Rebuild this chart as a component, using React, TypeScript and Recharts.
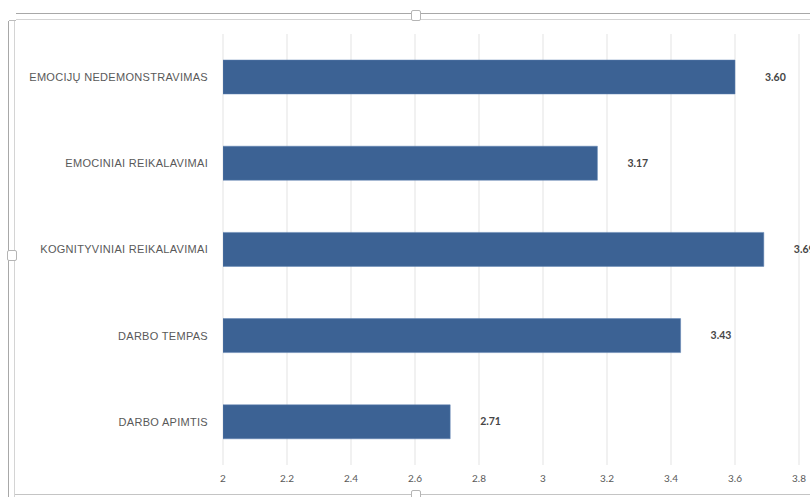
import React from 'react';
import { BarChart, Bar, XAxis, YAxis, CartesianGrid, LabelList } from 'recharts';

// Categories (top to bottom) and their mean scores
const categories = [
  'EMOCIJŲ NEDEMONSTRAVIMAS',
  'EMOCINIAI REIKALAVIMAI',
  'KOGNITYVINIAI REIKALAVIMAI',
  'DARBO TEMPAS',
  'DARBO APIMTIS',
];
const scores = [3.6, 3.17, 3.69, 3.43, 2.71];
const xTicks = [2, 2.2, 2.4, 2.6, 2.8, 3, 3.2, 3.4, 3.6, 3.8];

const data = categories.map((name, i) => ({ name, value: scores[i] }));

const W = 810;
const H = 497;

const ValueLabel = (props: any) => {
  const { x, y, width, height, value } = props;
  return (
    <text
      x={x + width + 30}
      y={y + height / 2}
      dy="0.35em"
      textAnchor="start"
      fontFamily="Lato, 'Open Sans', sans-serif"
      fontSize={10.5}
      fontWeight={700}
      fill="#454545"
    >
      {Number(value).toFixed(2)}
    </text>
  );
};

// single-line category label, right-aligned against the plot
const CategoryTick = (props: any) => {
  const { x, y, payload } = props;
  return (
    <text
      x={x}
      y={y}
      dy="0.35em"
      textAnchor="end"
      fontFamily="'Liberation Sans', Arial, sans-serif"
      fontSize={11}
      letterSpacing={0.3}
      fill="#595959"
    >
      {payload.value}
    </text>
  );
};

const line = (style: React.CSSProperties): React.CSSProperties => ({
  position: 'absolute',
  ...style,
});

const handle = (left: number, top: number, w: number, h: number): React.CSSProperties => ({
  position: 'absolute',
  left,
  top,
  width: w,
  height: h,
  background: '#fff',
  border: '1px solid #b5b5b5',
  borderRadius: 2,
  boxSizing: 'border-box',
});

export default function App() {
  return (
    <div style={{ position: 'absolute', left: 0, top: 0, width: W, height: H, background: '#fff', overflow: 'hidden' }}>
      {/* chart frame */}
      <div style={line({ left: 16, top: 13, width: W - 16, height: 1, background: '#a8a8a8' })} />
      <div style={line({ left: 16, top: 19, width: W - 16, height: 1, background: '#d4d4d4' })} />
      <div style={line({ left: 8, top: 21, width: 1, height: H - 21, background: '#a8a8a8' })} />
      <div style={line({ left: 14, top: 21, width: 1, height: H - 21, background: '#d4d4d4' })} />
      <div style={line({ left: 9, top: 20, width: 7, height: 1, background: '#bdbdbd' })} />
      <div style={line({ left: 15, top: 494, width: W - 15, height: 1, background: '#c4c4c4' })} />
      <div style={handle(411, 10, 10, 11)} />
      <div style={handle(7, 250, 10, 11)} />
      <div style={handle(411, 490, 10, 11)} />

      <div style={{ position: 'absolute', left: 0, top: 0 }}>
        <BarChart
          width={W}
          height={H}
          data={data}
          layout="vertical"
          margin={{ top: 34, right: 11, bottom: 0, left: 0 }}
          barSize={34}
        >
          <CartesianGrid horizontal={false} vertical stroke="#e3e3e3" />
          <XAxis
            type="number"
            domain={[2, 3.8]}
            ticks={xTicks}
            allowDataOverflow
            axisLine={false}
            tickLine={false}
            tickSize={0}
            tickMargin={10}
            height={32}
            interval={0}
            tick={{ fill: '#595959', fontSize: 10, fontFamily: "Lato, 'Open Sans', sans-serif" }}
          />
          <YAxis
            type="category"
            dataKey="name"
            width={223}
            axisLine={false}
            tickLine={false}
            tickSize={0}
            tickMargin={15}
            interval={0}
            tick={<CategoryTick />}
          />
          <Bar dataKey="value" fill="#3c6294" stroke="#5f83b3" strokeWidth={0.5} isAnimationActive={false}>
            <LabelList dataKey="value" content={<ValueLabel />} />
          </Bar>
        </BarChart>
      </div>
    </div>
  );
}
